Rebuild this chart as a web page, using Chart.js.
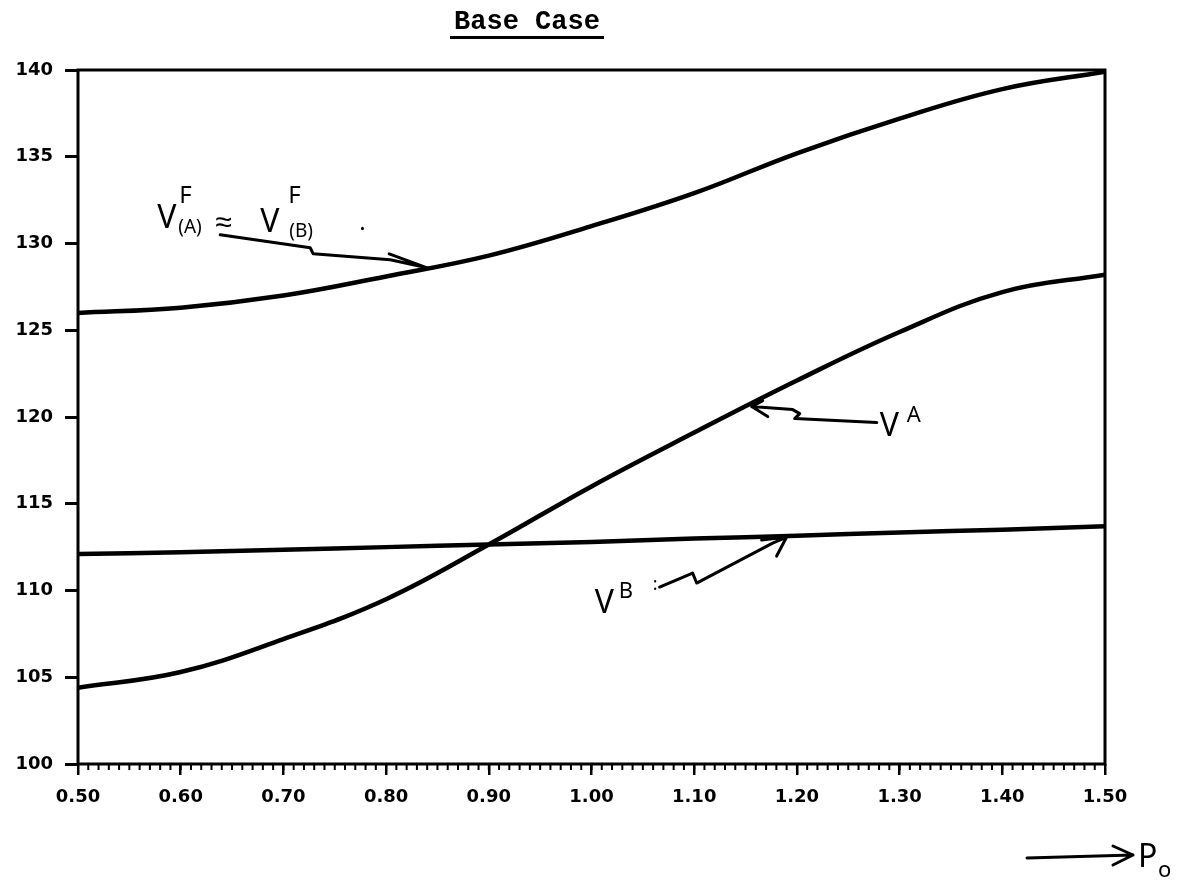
<!DOCTYPE html>
<html>
<head>
<meta charset="utf-8">
<script src="https://cdn.jsdelivr.net/npm/chart.js@4.4.0/dist/chart.umd.min.js"></script>
<style>
  body { margin: 0; background: #fff; }
  #wrap { position: relative; width: 1190px; height: 881px; }
  #title {
    position: absolute; left: 450px; top: 8px; width: 154px;
    text-align: center; font: bold 27px "Liberation Mono", monospace;
    line-height: 28px; color: #000; border-bottom: 3px solid #000;
  }
</style>
</head>
<body>
<div id="wrap">
  <div id="title">Base Case</div>
  <canvas id="chart" width="1190" height="881"></canvas>
</div>
<script>
// P0 on the x axis
const pValues = [0.50, 0.60, 0.70, 0.80, 0.90, 1.00, 1.10, 1.20, 1.30, 1.40, 1.50]
const vF = [126.0, 126.3, 127.0, 128.1, 129.3, 131.0, 132.9, 135.2, 137.2, 138.9, 139.9]
const vA = [104.4, 105.3, 107.2, 109.5, 112.65, 116.0, 119.1, 122.1, 124.9, 127.2, 128.2]
const vB = [112.1, 112.2, 112.35, 112.5, 112.65, 112.8, 113.0, 113.15, 113.35, 113.5, 113.7]

const xTicks = [0.5, 1.5, 0.1]   // min, max, step
const yTicks = [100, 140, 5]

const tickFont = {family: '"DejaVu Sans", sans-serif', size: 18, weight: 'bold'}
const handFont = '"Noto Sans", sans-serif'

const toPoints = (ys) => pValues.map((p, i) => ({x: p, y: ys[i]}))

// handwritten notes: arrow tip sits on a data point, the rest is offset in px
const notes = [
    {
        at: [0.84, 128.6],
        path: [[-207, -33], [-117, -20], [-114, -14], [-37, -8], [0, 0]],
        barbs: [[-38, -14]],
        text: [['V', -270, -40, 32], ['F', -248, -65, 24], ['(A)', -249, -35, 19], ['\u2248', -212, -36, 30],
            ['V', -167, -36, 32], ['F', -139, -65, 24], ['(B)', -138, -31, 19], ['.', -68, -38, 24]]
    },
    {
        at: [1.156, 120.6],
        path: [[125, 16], [43, 12], [48, 7], [41, 3], [0, 0]],
        barbs: [[11, -6], [16, 10]],
        text: [['V', 128, 29, 32], ['A', 155, 15, 22]]
    },
    {
        at: [1.19, 113.08],
        path: [[-127, 50], [-94, 36], [-90, 46], [-14, 6], [0, 0]],
        barbs: [[-25, 3], [-10, 19]],
        text: [['V', -192, 76, 32], ['B', -168, 61, 22], [':', -134, 53, 18]]
    }
]

const framePlugin = {
    id: 'frame',
    afterDraw(chart) {
        const {ctx, chartArea: a, scales} = chart
        const x = scales.x
        ctx.save()
        ctx.strokeStyle = '#000'
        ctx.lineWidth = 3
        ctx.strokeRect(a.left, a.top, a.right - a.left, a.bottom - a.top)
        // minor ticks every 0.01
        ctx.lineWidth = 2
        ctx.beginPath()
        for (let i = 0; i <= 100; i++) {
            const px = x.getPixelForValue(xTicks[0] + i * 0.01)
            ctx.moveTo(px, a.bottom)
            ctx.lineTo(px, a.bottom + 6)
        }
        ctx.stroke()
        ctx.restore()
    }
}

const notesPlugin = {
    id: 'notes',
    afterDraw(chart) {
        const {ctx, chartArea: a, scales} = chart
        ctx.save()
        ctx.strokeStyle = '#000'
        ctx.fillStyle = '#000'
        ctx.lineWidth = 3
        ctx.lineCap = 'round'
        ctx.lineJoin = 'round'
        ctx.textBaseline = 'alphabetic'
        const draw = (ox, oy, path, barbs, text) => {
            ctx.beginPath()
            path.forEach(([dx, dy], i) => i ? ctx.lineTo(ox + dx, oy + dy) : ctx.moveTo(ox + dx, oy + dy))
            const tip = path[path.length - 1]
            barbs.forEach(([dx, dy]) => {
                ctx.moveTo(ox + tip[0], oy + tip[1])
                ctx.lineTo(ox + tip[0] + dx, oy + tip[1] + dy)
            })
            ctx.stroke()
            text.forEach(([t, dx, dy, size]) => {
                ctx.font = size + 'px ' + handFont
                ctx.fillText(t, ox + dx, oy + dy)
            })
        }
        notes.forEach(n => {
            draw(scales.x.getPixelForValue(n.at[0]), scales.y.getPixelForValue(n.at[1]), n.path, n.barbs, n.text)
        })
        // P0 arrow below the axis
        draw(a.right, a.bottom, [[-78, 94], [28, 91]], [[-20, -9], [-20, 10]],
            [['P', 33, 103, 32], ['o', 53, 113, 22]])
        ctx.restore()
    }
}

const lineStyle = {
    borderColor: '#000',
    borderWidth: 4.5,
    pointRadius: 0,
    tension: 0.4,
    fill: false
}

new Chart(document.getElementById('chart'), {
    type: 'line',
    data: {
        datasets: [
            {label: 'VF(A) ~ VF(B)', data: toPoints(vF), ...lineStyle},
            {label: 'VA', data: toPoints(vA), ...lineStyle},
            {label: 'VB', data: toPoints(vB), ...lineStyle}
        ]
    },
    options: {
        responsive: false,
        animation: false,
        layout: {padding: {top: 70, right: 85, left: 0, bottom: 0}},
        plugins: {legend: {display: false}, tooltip: {enabled: false}, title: {display: false}},
        scales: {
            x: {
                type: 'linear',
                min: xTicks[0],
                max: xTicks[1],
                ticks: {stepSize: xTicks[2], autoSkip: false, maxRotation: 0, padding: 12,
                    color: '#000', font: tickFont, callback: v => v.toFixed(2)},
                grid: {drawOnChartArea: false, tickLength: 11, lineWidth: 2.5, color: '#000'},
                border: {display: false},
                afterFit: s => { s.height = 881 - 764 }
            },
            y: {
                min: yTicks[0],
                max: yTicks[1],
                ticks: {stepSize: yTicks[2], padding: 12, color: '#000', font: tickFont},
                grid: {drawOnChartArea: false, tickLength: 13, lineWidth: 3, color: '#000'},
                border: {display: false},
                afterFit: s => { s.width = 78 }
            }
        }
    },
    plugins: [framePlugin, notesPlugin]
})
</script>
</body>
</html>
